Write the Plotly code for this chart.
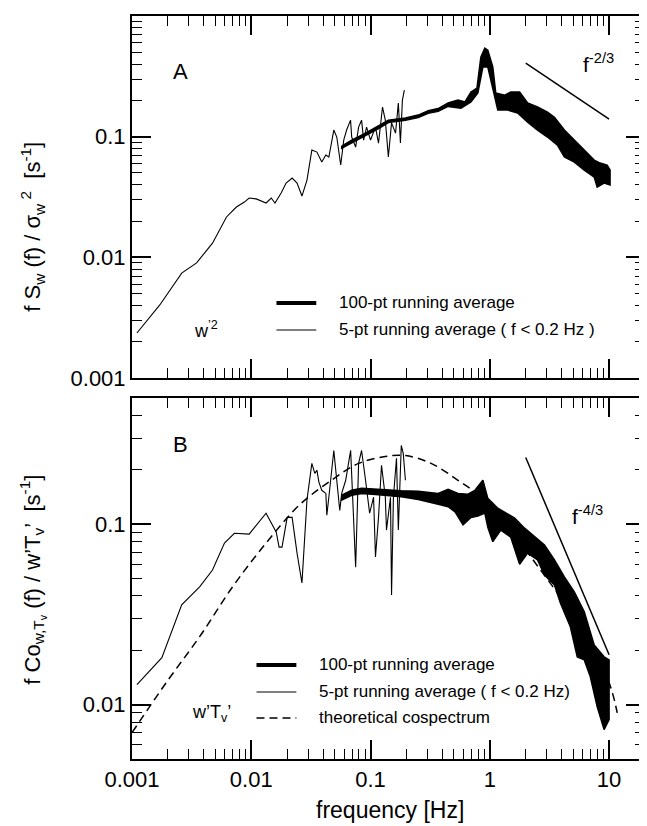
import math
import plotly.graph_objects as go

# ---------------- data ----------------
# Panel A: 5-pt running average (f < 0.2 Hz)
freq_thin_A = [0.0011, 0.00171, 0.00261, 0.00348, 0.00473, 0.0062, 0.0075, 0.00875, 0.0096, 0.0110,
               0.0133, 0.0147, 0.0158, 0.0178, 0.0196, 0.022, 0.0242, 0.0266, 0.0293, 0.0322,
               0.0355, 0.039, 0.0422, 0.0447, 0.0492, 0.0521, 0.0562, 0.0596, 0.063, 0.068,
               0.0695, 0.075, 0.0794, 0.0841, 0.0875, 0.0926, 0.1, 0.110, 0.1166, 0.126,
               0.133, 0.141, 0.150, 0.162, 0.171, 0.178, 0.185, 0.192]
val_thin_A = [0.00236, 0.00403, 0.0074, 0.0090, 0.0131, 0.0216, 0.0261, 0.0287, 0.031, 0.0305,
              0.0282, 0.031, 0.0282, 0.0341, 0.0413, 0.0454, 0.0413, 0.0322, 0.0437, 0.0774,
              0.0745, 0.0616, 0.0704, 0.0678, 0.1135, 0.0993, 0.0582, 0.0937, 0.1135, 0.137,
              0.0993, 0.082, 0.120, 0.137, 0.0937, 0.120, 0.0937, 0.120, 0.0885, 0.176,
              0.137, 0.0678, 0.130, 0.107, 0.190, 0.0885, 0.201, 0.243]

# Panel A: 100-pt running average, upper / lower edge of the trace
freq_band_A_up = [0.0573, 0.0695, 0.0908, 0.1166, 0.141, 0.196, 0.251, 0.304, 0.369, 0.447,
                  0.541, 0.619, 0.695, 0.780, 0.841, 0.908, 0.962, 1.059, 1.122, 1.334,
                  1.496, 1.778, 2.074, 2.512, 3.043, 3.483, 4.217, 5.109, 6.19, 7.50,
                  8.41, 9.62, 10.19]
val_band_A_up = [0.0836, 0.0937, 0.107, 0.122, 0.137, 0.143, 0.151, 0.164, 0.171, 0.190,
                 0.201, 0.194, 0.234, 0.253, 0.456, 0.542, 0.521, 0.378, 0.230, 0.221,
                 0.234, 0.234, 0.190, 0.176, 0.160, 0.145, 0.1135, 0.0937, 0.0774, 0.064,
                 0.0604, 0.0582, 0.0529]
freq_band_A_lo = [0.0573, 0.0695, 0.0908, 0.1166, 0.141, 0.196, 0.251, 0.304, 0.369, 0.447,
                  0.573, 0.695, 0.794, 0.875, 0.962, 1.101, 1.166, 1.413, 1.711, 2.074,
                  2.512, 3.043, 3.687, 4.217, 5.109, 6.19, 7.50, 7.94, 9.08, 10.19]
val_band_A_lo = [0.0800, 0.0895, 0.102, 0.1165, 0.131, 0.1365, 0.144, 0.156, 0.162, 0.178,
                 0.172, 0.194, 0.230, 0.378, 0.378, 0.213, 0.166, 0.166, 0.157, 0.132,
                 0.1135, 0.0993, 0.0852, 0.0678, 0.0616, 0.0529, 0.0463, 0.0382, 0.0413, 0.0397]

# Panel A reference slope f^-2/3
ref_A_freq = [2.0, 10.0]
ref_A_val = [0.407, 0.14]

# Panel B: 5-pt running average (f < 0.2 Hz)
freq_thin_B = [0.0011, 0.00178, 0.00261, 0.00369, 0.00473, 0.00596, 0.00722, 0.0096, 0.0133, 0.0162,
               0.0171, 0.0181, 0.0200, 0.0220, 0.0242, 0.0266, 0.0293, 0.0322, 0.0341, 0.0355,
               0.0369, 0.0390, 0.0422, 0.0430, 0.0447, 0.0492, 0.0521, 0.0552, 0.0573, 0.0619,
               0.0681, 0.0750, 0.0794, 0.0841, 0.0908, 0.0982, 0.106, 0.110, 0.1166, 0.1236,
               0.133, 0.136, 0.147, 0.150, 0.1555, 0.165, 0.171, 0.181, 0.188, 0.196]
val_thin_B = [0.0129, 0.0182, 0.0357, 0.0449, 0.0557, 0.0785, 0.089, 0.088, 0.115, 0.0903,
              0.0746, 0.0746, 0.109, 0.109, 0.0691, 0.0472, 0.136, 0.217, 0.191, 0.199,
              0.171, 0.154, 0.148, 0.112, 0.141, 0.256, 0.175, 0.119, 0.148, 0.175,
              0.256, 0.0578, 0.217, 0.256, 0.175, 0.115, 0.141, 0.0657, 0.109, 0.212,
              0.141, 0.0927, 0.141, 0.0405, 0.141, 0.232, 0.0927, 0.273, 0.247, 0.175]

# Panel B: 100-pt running average, upper / lower edge of the trace
freq_band_B_up = [0.0573, 0.0695, 0.0841, 0.110, 0.133, 0.181, 0.251, 0.369, 0.447, 0.541,
                  0.656, 0.750, 0.875, 0.962, 1.166, 1.413, 1.615, 1.957, 2.371, 2.873,
                  3.483, 4.217, 5.109, 6.19, 7.50, 9.08, 10.0]
val_band_B_up = [0.1445, 0.154, 0.158, 0.156, 0.155, 0.153, 0.152, 0.148, 0.156, 0.148,
                 0.1466, 0.154, 0.175, 0.139, 0.1226, 0.1136, 0.1079, 0.0950, 0.0848, 0.0766,
                 0.0633, 0.0510, 0.0421, 0.0327, 0.0214, 0.0184, 0.0177]
freq_band_B_lo = [0.0573, 0.0695, 0.0841, 0.110, 0.133, 0.181, 0.251, 0.369, 0.447, 0.511,
                  0.596, 0.695, 0.794, 0.908, 0.962, 1.059, 1.236, 1.496, 1.778, 2.074,
                  2.512, 2.873, 3.483, 3.905, 4.732, 5.41, 6.19, 6.95, 7.94, 9.08, 10.0]
val_band_B_lo = [0.136, 0.1445, 0.148, 0.146, 0.145, 0.142, 0.137, 0.129, 0.125, 0.117,
                 0.0990, 0.1090, 0.1110, 0.1151, 0.0962, 0.0800, 0.0927, 0.0848, 0.0600, 0.0691,
                 0.0633, 0.0523, 0.0460, 0.0366, 0.0270, 0.0184, 0.0177, 0.0143, 0.00975, 0.00728, 0.00826]

# Panel B: theoretical cospectrum
freq_theory_B = [0.001, 0.00196, 0.00369, 0.00696, 0.0133, 0.0251, 0.047, 0.0794, 0.133, 0.196,
                 0.322, 0.541, 0.908, 1.6, 2.66, 4.2, 6.56, 10.0, 11.7]
val_theory_B = [0.0070, 0.0134, 0.0238, 0.0449, 0.0785, 0.127, 0.175, 0.217, 0.237, 0.240,
                0.217, 0.175, 0.136, 0.087, 0.0557, 0.0366, 0.022, 0.0132, 0.0090]

# Panel B reference slope f^-4/3
ref_B_freq = [2.0, 10.0]
ref_B_val = [0.234, 0.0189]

# axis extents
x_range = [0.001, 20]
yA_range = [0.001, 1]
yB_range = [0.005, 0.5]

FONT = "Liberation Sans, Arial, Helvetica, sans-serif"
BLACK = "black"

fig = go.Figure()


def band(fu, vu, fl, vl, xa, ya):
    xs = list(fu) + list(reversed(fl)) + [fu[0]]
    ys = list(vu) + list(reversed(vl)) + [vu[0]]
    return go.Scatter(x=xs, y=ys, mode="lines", fill="toself", fillcolor=BLACK,
                      line=dict(color=BLACK, width=1.5), xaxis=xa, yaxis=ya,
                      hoverinfo="skip", showlegend=False)


# Panel A
fig.add_trace(band(freq_band_A_up, val_band_A_up, freq_band_A_lo, val_band_A_lo, "x", "y"))
fig.add_trace(go.Scatter(x=freq_thin_A, y=val_thin_A, mode="lines",
                         line=dict(color=BLACK, width=1.1), xaxis="x", yaxis="y", showlegend=False))
fig.add_trace(go.Scatter(x=ref_A_freq, y=ref_A_val, mode="lines",
                         line=dict(color=BLACK, width=1.5), xaxis="x", yaxis="y", showlegend=False))

# Panel B
fig.add_trace(go.Scatter(x=freq_theory_B, y=val_theory_B, mode="lines", line_shape="spline",
                         line=dict(color=BLACK, width=1.5, dash="8px,5px"),
                         xaxis="x2", yaxis="y2", showlegend=False))
fig.add_trace(band(freq_band_B_up, val_band_B_up, freq_band_B_lo, val_band_B_lo, "x2", "y2"))
fig.add_trace(go.Scatter(x=freq_thin_B, y=val_thin_B, mode="lines",
                         line=dict(color=BLACK, width=1.1), xaxis="x2", yaxis="y2", showlegend=False))
fig.add_trace(go.Scatter(x=ref_B_freq, y=ref_B_val, mode="lines",
                         line=dict(color=BLACK, width=1.5), xaxis="x2", yaxis="y2", showlegend=False))


def log_axis(rng, domain, anchor, labels=True, **kw):
    d = dict(type="log", range=[math.log10(rng[0]), math.log10(rng[1])], domain=domain,
             anchor=anchor, showline=True, linecolor=BLACK, linewidth=2, mirror="allticks",
             ticks="inside", ticklen=19, tickwidth=1.5, tickcolor=BLACK,
             tickmode="linear", tick0=0, dtick=1, showgrid=False, zeroline=False,
             showticklabels=labels, tickfont=dict(family=FONT, size=22, color=BLACK),
             minor=dict(ticks="inside", ticklen=10, tickwidth=1.3, tickcolor=BLACK,
                        dtick="D1", showgrid=False))
    d.update(kw)
    return d


# The page body has an 8px margin, so the figure is sized to end at the window edge.
fig.update_layout(
    width=639, height=818,
    margin=dict(l=124, r=0, t=8, b=67),
    paper_bgcolor="white", plot_bgcolor="white",
    font=dict(family=FONT, color=BLACK),
    showlegend=False,
    xaxis=log_axis(x_range, [0, 1], "y", labels=False),
    yaxis=log_axis(yA_range, [0.5128, 1], "x"),
    xaxis2=log_axis(x_range, [0, 1], "y2"),
    yaxis2=log_axis(yB_range, [0, 0.4859], "x2"),
)

ann = []


def txt(text, x, y, xref, yref, size, xanchor="center", yanchor="middle", angle=0):
    ann.append(dict(text=text, x=x, y=y, xref=xref, yref=yref, showarrow=False,
                    xanchor=xanchor, yanchor=yanchor, textangle=angle,
                    font=dict(family=FONT, size=size, color=BLACK)))


# panel letters and labels
txt("A", 0.095, 0.848, "x domain", "y domain", 22)
txt("B", 0.095, 0.870, "x2 domain", "y2 domain", 22)
txt("w<sup>’2</sup>", 0.144, 0.133, "x domain", "y domain", 18)
txt("w’T<sub>v</sub>’", 0.155, 0.127, "x2 domain", "y2 domain", 18)
txt("f<sup>-2/3</sup>", 0.909, 0.870, "x domain", "y domain", 21)
txt("f<sup>-4/3</sup>", 0.887, 0.676, "x2 domain", "y2 domain", 21)

# legend A
txt("100-pt running average", 0.400, 0.2072, "x domain", "y domain", 17, xanchor="left")
txt("5-pt running average ( f &lt; 0.2 Hz )", 0.400, 0.1326, "x domain", "y domain", 17, xanchor="left")
# legend B
txt("100-pt running average", 0.3612, 0.2604, "x2 domain", "y2 domain", 17, xanchor="left")
txt("5-pt running average ( f &lt; 0.2 Hz)", 0.3612, 0.1856, "x2 domain", "y2 domain", 17, xanchor="left")
txt("theoretical cospectrum", 0.3612, 0.1136, "x2 domain", "y2 domain", 17, xanchor="left")

# axis titles
txt("frequency [Hz]", 0.503, -0.0686, "paper", "paper", 23)
txt("f S<sub>w</sub> (f) / σ<sub>w</sub><sup> 2</sup>  [s<sup>-1</sup>]", -0.194, 0.717, "paper", "paper", 22, angle=-90)
txt("f Co<sub>w,T<sub>v</sub></sub> (f) / w’T<sub>v</sub>’  [s<sup>-1</sup>]", -0.194, 0.242, "paper", "paper", 22, angle=-90)

fig.update_layout(annotations=ann)

# legend sample lines (layout decoration)
shapes = []
def sample(x0, x1, y, xref, yref, width, dash="solid"):
    shapes.append(dict(type="line", x0=x0, x1=x1, y0=y, y1=y, xref=xref, yref=yref,
                       line=dict(color=BLACK, width=width, dash=dash)))

sample(0.2816, 0.3592, 0.2072, "x domain", "y domain", 4)
sample(0.2816, 0.3592, 0.1326, "x domain", "y domain", 1.1)
sample(0.2427, 0.3204, 0.2604, "x2 domain", "y2 domain", 4)
sample(0.2427, 0.3204, 0.1856, "x2 domain", "y2 domain", 1.1)
sample(0.2427, 0.3204, 0.1136, "x2 domain", "y2 domain", 1.5, dash="8px,5px")
fig.update_layout(shapes=shapes)

fig.write_html("out.html")
